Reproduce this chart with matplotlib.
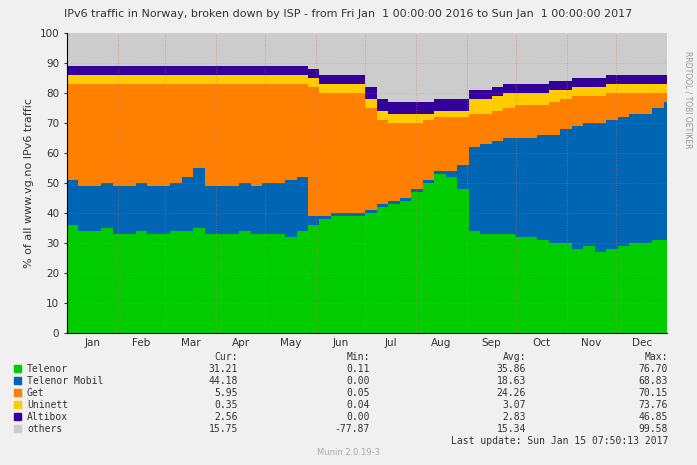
import numpy as np
import matplotlib.pyplot as plt

# weekly values (Jan 1 2016 .. Dec 30 2016), percent of traffic
telenor = [36,34,34,35,33, 33,34,33,33, 34,34,35,33, 33,33,34,33, 33,33,32,34,36,
           38,39,39,39, 40,42,43,44,47, 50,53,52,48, 34,33,33,33, 32,32,31,30,
           30,28,29,27,28, 29,30,30,31,31]
telenor_mobil = [15,15,15,15,16, 16,16,16,16, 16,18,20,16, 16,16,16,16, 17,17,19,18,3,
                 1,1,1,1, 1,1,1,1,1, 1,1,2,8, 28,30,31,32, 33,33,35,36,
                 38,41,41,43,43, 43,43,43,44,46]
get = [32,34,34,33,34, 34,33,34,34, 33,31,28,34, 34,34,33,34, 33,33,32,31,43,
       41,40,40,40, 34,28,26,25,22, 20,18,18,16, 11,10,10,10, 11,11,10,11,
       10,10,9,9,9, 8,7,7,5,3]
uninett = [3,3,3,3,3, 3,3,3,3, 3,3,3,3, 3,3,3,3, 3,3,3,3,3,
           3,3,3,3, 3,3,3,3,3, 2,2,2,2, 5,5,5,5, 4,4,4,4,
           3,3,3,3,3, 3,3,3,3,3]
altibox = [3,3,3,3,3, 3,3,3,3, 3,3,3,3, 3,3,3,3, 3,3,3,3,3,
           3,3,3,3, 4,4,4,4,4, 4,4,4,4, 3,3,3,3, 3,3,3,3,
           3,3,3,3,3, 3,3,3,3,3]

series = ["Telenor", "Telenor Mobil", "Get", "Uninett", "Altibox", "others"]
colors = ["#00CC00", "#0066B3", "#FF8000", "#FFCC00", "#330099", "#CCCCCC"]
cur = ["31.21", "44.18", "5.95", "0.35", "2.56", "15.75"]
mins = ["0.11", "0.00", "0.05", "0.04", "0.00", "-77.87"]
avgs = ["35.86", "18.63", "24.26", "3.07", "2.83", "15.34"]
maxs = ["76.70", "68.83", "70.15", "73.76", "46.85", "99.58"]
months = ["Jan", "Feb", "Mar", "Apr", "May", "Jun", "Jul", "Aug", "Sep", "Oct", "Nov", "Dec"]
month_days = [31, 29, 31, 30, 31, 30, 31, 31, 30, 31, 30, 31]

fig = plt.figure(figsize=(6.97, 4.65), dpi=100, facecolor="#F0F0F0")
ax = fig.add_axes([67/697, 1-333/465, 600/697, 300/465], facecolor="white")

days = np.append(np.arange(53) * 7, 366)
vals = [np.array(v, float) for v in (telenor, telenor_mobil, get, uninett, altibox)]
base = np.zeros(53)
for v, c in zip(vals, colors):
    top = base + v
    ax.fill_between(days, np.append(base, base[-1]), np.append(top, top[-1]),
                    step="post", color=c, lw=0, zorder=1)
    base = top
ax.fill_between(days, np.append(base, base[-1]), 100, step="post", color=colors[5], lw=0, zorder=1)

starts = np.concatenate([[0], np.cumsum(month_days)])
ax.set_xlim(0, 366)
ax.set_ylim(0, 100)
ax.set_xticks(starts[:-1] + np.array(month_days) / 2)
ax.set_xticklabels(months, fontsize=7.5, color="#333333")
ax.tick_params(axis="x", length=0)
ax.set_yticks(range(0, 101, 10))
ax.tick_params(axis="y", labelsize=7.5, length=2, colors="#333333")
for s in starts[1:-1]:
    ax.axvline(s, color="#E07070", ls=(0, (1, 2)), lw=0.6, alpha=0.7, zorder=2)
for yv in range(10, 100, 10):
    ax.axhline(yv, color="#999999", ls=(0, (1, 2)), lw=0.5, alpha=0.6, zorder=2)
for sp in ["top", "right"]:
    ax.spines[sp].set_visible(False)
ax.set_ylabel("% of all www.vg.no IPv6 traffic", fontsize=8, color="#333333")

fig.text(0.5, 1-14/465, "IPv6 traffic in Norway, broken down by ISP - from Fri Jan  1 00:00:00 2016 to Sun Jan  1 00:00:00 2017",
         ha="center", va="center", fontsize=8, color="#333333")
fig.text(688/697, 1-100/465, "RRDTOOL / TOBI OETIKER", rotation=270, ha="center", va="center",
         fontsize=5.5, color="#999999")

mono = dict(family="DejaVu Sans Mono", fontsize=7, color="#333333", va="center")
fy = lambda y: 1 - y / 465
fig.text(238/697, fy(357), "Cur:", ha="right", **mono)
fig.text(370/697, fy(357), "Min:", ha="right", **mono)
fig.text(526/697, fy(357), "Avg:", ha="right", **mono)
fig.text(668/697, fy(357), "Max:", ha="right", **mono)
for i, name in enumerate(series):
    y = 369 + i * 12
    fig.patches.append(plt.Rectangle((14/697, fy(y + 3)), 7/697, 7/465,
                                     transform=fig.transFigure, color=colors[i]))
    fig.text(27/697, fy(y), name, ha="left", **mono)
    fig.text(238/697, fy(y), cur[i], ha="right", **mono)
    fig.text(370/697, fy(y), mins[i], ha="right", **mono)
    fig.text(526/697, fy(y), avgs[i], ha="right", **mono)
    fig.text(668/697, fy(y), maxs[i], ha="right", **mono)
fig.text(668/697, fy(441), "Last update: Sun Jan 15 07:50:13 2017", ha="right", **mono)
fig.text(0.5, fy(452), "Munin 2.0.19-3", ha="center", va="center", fontsize=6, color="#AAAAAA")

fig.savefig("out.png", dpi=100, facecolor=fig.get_facecolor())
